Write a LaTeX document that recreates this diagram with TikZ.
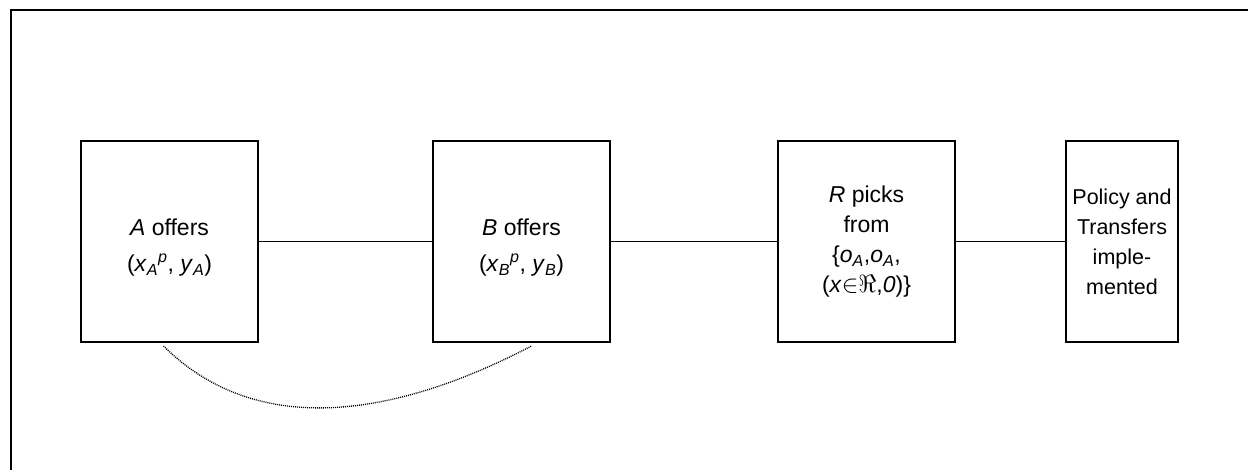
\documentclass[tikz,border=0pt]{standalone}
\usepackage{fontspec}
\setmainfont{Liberation Sans}
\begin{document}
\begin{tikzpicture}[x=1pt,y=-1pt,
  stage/.style={draw=black,line width=2pt,minimum height=201pt,inner sep=0pt,align=center,
    font=\fontsize{23}{30}\selectfont},
  wide/.style={stage,minimum width=177pt},
  narrow/.style={stage,minimum width=112pt,font=\fontsize{21.5}{30}\selectfont},
  txt/.style={inner sep=0pt,align=center,font=\fontsize{23}{30}\selectfont},
  link/.style={draw=black,line width=1.5pt},
  tie/.style={draw=black,line width=1.3pt,dash pattern=on 1pt off 1pt}]
\useasboundingbox (0,0) rectangle (1248,470);
\draw[line width=2pt] (11,475) -- (11,10) -- (1252,10);
\node[wide] (A) at (169.5,241.5) {};
\node[txt] (At) at ([yshift=-6pt]A.center) {\textit{A} offers\\[6pt](\textit{x}\textsubscript{\textit{A}}\textsuperscript{\textit{p}}, \textit{y}\textsubscript{\textit{A}})};
\node[wide] (B) at (521.5,241.5) {};
\node[txt] (Bt) at ([yshift=-6pt]B.center) {\textit{B} offers\\[6pt](\textit{x}\textsubscript{\textit{B}}\textsuperscript{\textit{p}}, \textit{y}\textsubscript{\textit{B}})};
\node[wide] (R) at (866.5,241.5) {\textit{R} picks\\from\\\{\textit{o}\textsubscript{\textit{A}},\textit{o}\textsubscript{\textit{A}},\\(\textit{x}$\mathord{\in}\Re$,\textit{0})\}};
\node[narrow] (P) at (1122,241.5) {Policy and\\Transfers\\imple-\\mented};
\draw[link] (A.east) -- (B.west);
\draw[link] (B.east) -- (R.west);
\draw[link] (R.east) -- (P.west);
\draw[tie] ([xshift=-6pt,yshift=-3pt]A.south) .. controls (250,432) and (380,425) .. ([xshift=10pt,yshift=-3pt]B.south);
\end{tikzpicture}
\end{document}
